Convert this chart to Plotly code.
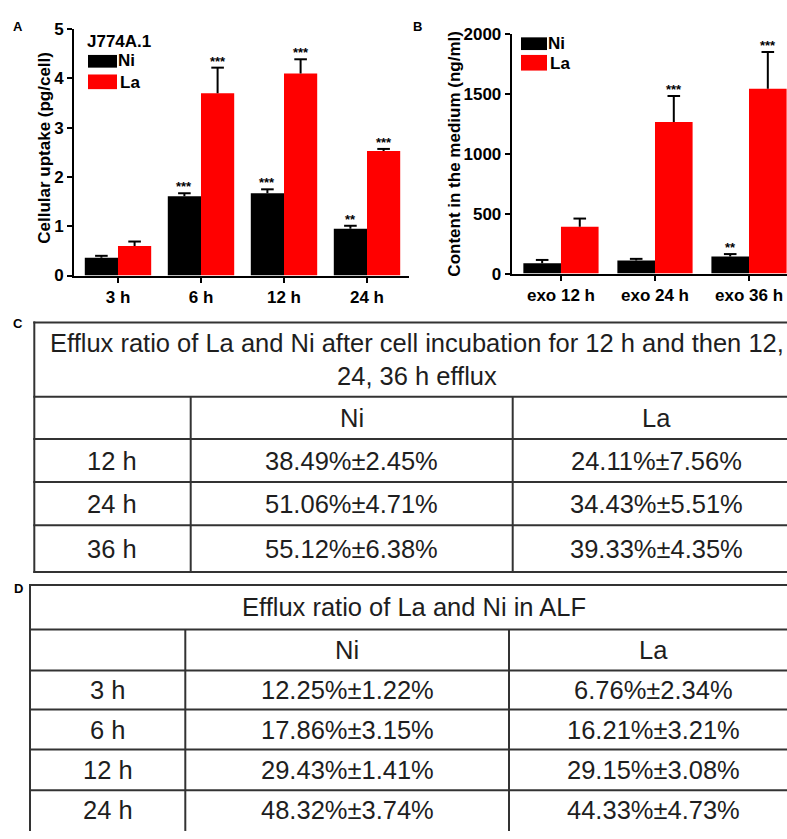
import plotly.graph_objects as go

W, H = 787, 839
FONT = "Liberation Sans, Arial, sans-serif"

# ---------------- data ----------------
cats_A = ["3 h", "6 h", "12 h", "24 h"]
ni_A = [0.36, 1.61, 1.67, 0.95]
ni_A_err = [0.04, 0.06, 0.08, 0.06]
la_A = [0.60, 3.70, 4.10, 2.53]
la_A_err = [0.09, 0.52, 0.29, 0.04]
sig_A_ni = ["", "***", "***", "**"]
sig_A_la = ["", "***", "***", "***"]
ticks_A = [0, 1, 2, 3, 4, 5]

cats_B = ["exo 12 h", "exo 24 h", "exo 36 h"]
ni_B = [87, 109, 142]
ni_B_err = [27, 14, 21]
la_B = [392, 1267, 1545]
la_B_err = [68, 218, 308]
sig_B_ni = ["", "", "**"]
sig_B_la = ["", "***", "***"]
ticks_B = [0, 500, 1000, 1500, 2000]

tableC_title = "Efflux ratio of La and Ni after cell incubation for 12 h and then 12,<br>24, 36 h efflux"
tableC_cols = ["Ni", "La"]
tableC_rows = ["12 h", "24 h", "36 h"]
tableC_ni = ["38.49%±2.45%", "51.06%±4.71%", "55.12%±6.38%"]
tableC_la = ["24.11%±7.56%", "34.43%±5.51%", "39.33%±4.35%"]

tableD_title = "Efflux ratio of La and Ni in ALF"
tableD_cols = ["Ni", "La"]
tableD_rows = ["3 h", "6 h", "12 h", "24 h"]
tableD_ni = ["12.25%±1.22%", "17.86%±3.15%", "29.43%±1.41%", "48.32%±3.74%"]
tableD_la = ["6.76%±2.34%", "16.21%±3.21%", "29.15%±3.08%", "44.33%±4.73%"]

NI_COLOR = "#000000"
LA_COLOR = "#ff0000"


def px(x):
    return x / W


def py(y):
    return 1 - y / H


fig = go.Figure()


def add_panel(cats, ni, ni_err, la, la_err, sig_ni, sig_la, xa, ya):
    xs = list(range(len(cats)))
    fig.add_trace(go.Bar(x=xs, y=ni, offset=-0.4, width=0.4, name="Ni",
                         marker=dict(color=NI_COLOR, line=dict(width=0)),
                         xaxis=xa, yaxis=ya, showlegend=False))
    fig.add_trace(go.Bar(x=xs, y=la, offset=0.0, width=0.4, name="La",
                         marker=dict(color=LA_COLOR, line=dict(width=0)),
                         xaxis=xa, yaxis=ya, showlegend=False))
    for shift, vals, errs, sig in ((-0.2, ni, ni_err, sig_ni), (0.2, la, la_err, sig_la)):
        ex = [i + shift for i in xs]
        ey = [v + e for v, e in zip(vals, errs)]
        fig.add_trace(go.Scatter(
            x=ex, y=ey, mode="markers",
            marker=dict(symbol="line-ew", size=9, color="black",
                        line=dict(width=2, color="black")),
            error_y=dict(type="data", symmetric=False, array=[0] * len(errs),
                         arrayminus=errs, width=0, thickness=2, color="black"),
            xaxis=xa, yaxis=ya, showlegend=False, hoverinfo="skip", cliponaxis=False))
        for xx, yy, s in zip(ex, ey, sig):
            if s:
                fig.add_annotation(x=xx, y=yy, xref=xa, yref=ya, text=s, showarrow=False,
                                   yanchor="bottom", yshift=-3,
                                   font=dict(family=FONT, size=13, color="black", weight="bold"))


add_panel(cats_A, ni_A, ni_A_err, la_A, la_A_err, sig_A_ni, sig_A_la, "x", "y")
add_panel(cats_B, ni_B, ni_B_err, la_B, la_B_err, sig_B_ni, sig_B_la, "x2", "y2")

axis_common = dict(showline=True, linecolor="black", linewidth=2, ticks="outside",
                   ticklen=5, tickwidth=2, tickcolor="black", showgrid=False, zeroline=False,
                   tickfont=dict(family=FONT, size=17, color="black", weight="bold"),
                   fixedrange=True)

fig.update_layout(
    xaxis=dict(domain=[px(74), px(409)], range=[-0.53, 3.506],
               tickvals=list(range(len(cats_A))), ticktext=cats_A, anchor="y", **axis_common),
    yaxis=dict(domain=[py(272.7), py(20.7)], range=[0, 5], tickvals=ticks_A,
               anchor="x", **axis_common),
    xaxis2=dict(domain=[px(511.7), 1], range=[-0.524, 2.404], ticklabeloverflow="allow",
                tickvals=list(range(len(cats_B))), ticktext=cats_B, anchor="y2", **axis_common),
    yaxis2=dict(domain=[py(270.7), py(26)], range=[0, 2000], tickvals=ticks_B,
                anchor="x2", **axis_common),
)

shapes = []
ann = []


def text(x, y, s, size, xanchor="center", weight="bold", angle=0, color="black"):
    ann.append(dict(x=px(x), y=py(y), xref="paper", yref="paper", text=s, showarrow=False,
                    xanchor=xanchor, yanchor="middle", textangle=angle,
                    font=dict(family=FONT, size=size, color=color, weight=weight)))


def rect(x0, x1, y0, y1, color):
    shapes.append(dict(type="rect", xref="paper", yref="paper", x0=px(x0), x1=px(x1),
                       y0=py(y1), y1=py(y0), fillcolor=color, line=dict(width=0)))


def hline(x0, x1, y, color="#333333", w=2):
    shapes.append(dict(type="line", xref="paper", yref="paper", x0=px(x0), x1=px(x1),
                       y0=py(y), y1=py(y), line=dict(color=color, width=w)))


def vline(x, y0, y1, color="#333333", w=2):
    shapes.append(dict(type="line", xref="paper", yref="paper", x0=px(x), x1=px(x),
                       y0=py(y0), y1=py(y1), line=dict(color=color, width=w)))


# panel labels
text(18, 18, "A", 13)
text(418, 18, "B", 13)
text(18, 322, "C", 13)
text(18, 593, "D", 13)

# axis titles
text(45, 142, "Cellular uptake (pg/cell)", 17, angle=-90)
text(455, 148, "Content in the medium (ng/ml)", 17, angle=-90)

# legend A
text(85, 33, "J774A.1", 17, xanchor="left")
rect(88, 117, 47, 60, NI_COLOR)
rect(88, 117, 67, 82, LA_COLOR)
text(116, 53, "Ni", 17, xanchor="left")
text(118, 75, "La", 17, xanchor="left")

# legend B
rect(521, 547, 29, 42, NI_COLOR)
rect(521, 547, 47, 63, LA_COLOR)
text(546, 35, "Ni", 17, xanchor="left")
text(548, 56, "La", 17, xanchor="left")


# ---------------- tables ----------------
def draw_table(left, right, top, title_bot, row_lines, col1, col2, title, cols, rows, c1, c2,
               size=25.5, draw_bottom=True):
    tcol = "#1e1e1e"
    hl = [top, title_bot] + row_lines
    if not draw_bottom:
        hl = hl[:-1]
    for y in hl:
        hline(left - 1, W + 5, y)
    bottom = row_lines[-1]
    vline(left, top - 1, bottom + 1)
    vline(col1, title_bot, bottom + 1)
    vline(col2, title_bot, bottom + 1)
    text((left + right) / 2, (top + title_bot) / 2, title, size, weight="normal", color=tcol)
    hdr_y = (title_bot + row_lines[0]) / 2
    text((col1 + col2) / 2, hdr_y, cols[0], size, weight="normal", color=tcol)
    text((col2 + right) / 2, hdr_y, cols[1], size, weight="normal", color=tcol)
    for i, (r, a, b) in enumerate(zip(rows, c1, c2)):
        yc = (row_lines[i] + row_lines[i + 1]) / 2
        text((left + col1) / 2, yc, r, size, weight="normal", color=tcol)
        text((col1 + col2) / 2, yc, a, size, weight="normal", color=tcol)
        text((col2 + right) / 2, yc, b, size, weight="normal", color=tcol)


draw_table(34.3, 800, 320.7, 396.7, [440, 484, 528.3, 576], 190.7, 512.7,
           tableC_title, tableC_cols, tableC_rows, tableC_ni, tableC_la)
draw_table(30, 798, 589.3, 635, [676.7, 716.7, 757.7, 799.3, 840], 185.3, 509,
           tableD_title, tableD_cols, tableD_rows, tableD_ni, tableD_la, draw_bottom=False)

fig.update_layout(
    width=W, height=H, autosize=False,
    margin=dict(l=0, r=0, t=0, b=0, pad=0),
    paper_bgcolor="white", plot_bgcolor="white",
    font=dict(family=FONT, color="black"),
    shapes=shapes,
    annotations=list(fig.layout.annotations) + ann,
    showlegend=False,
)

fig.write_html("out.html", config={"displayModeBar": False, "staticPlot": True},
               post_script="document.body.style.margin='0';document.body.style.overflow='hidden';")
